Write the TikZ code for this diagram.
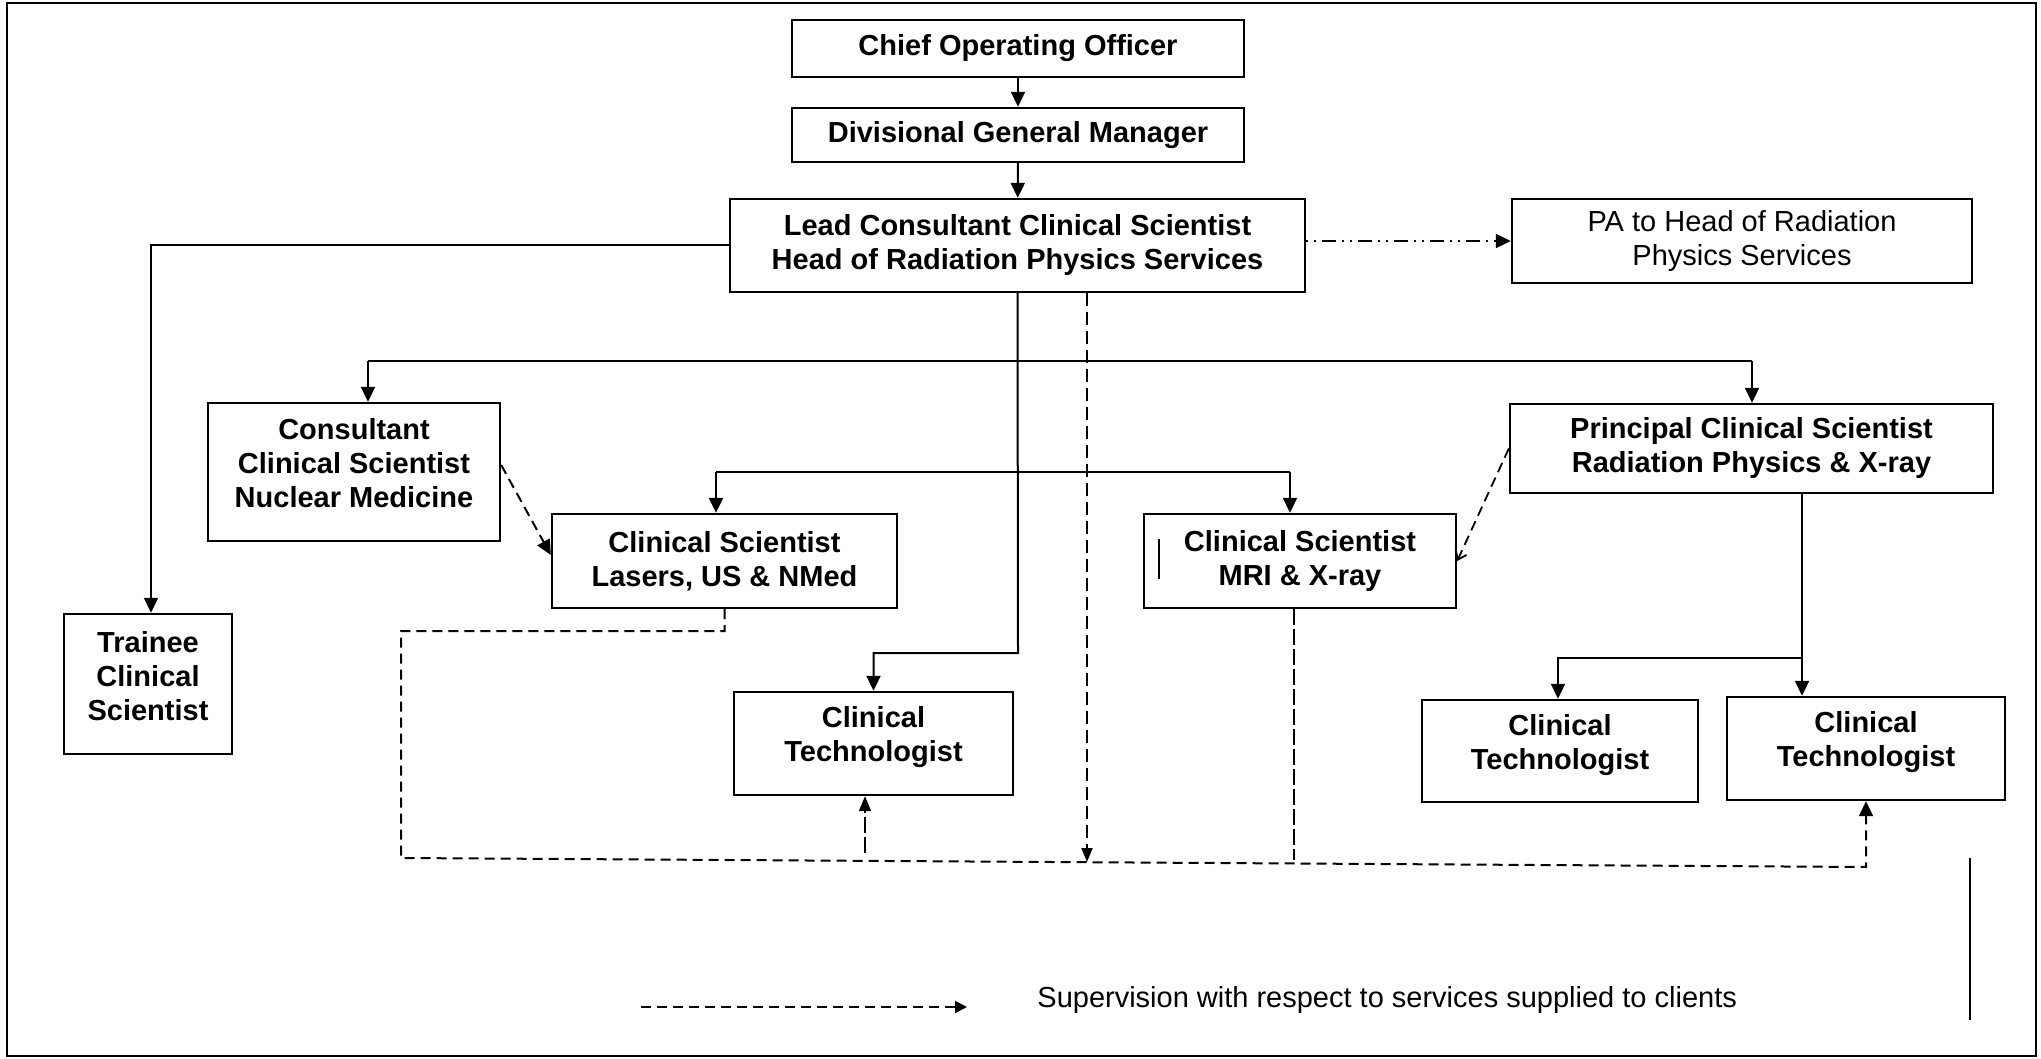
\documentclass[tikz,border=0pt]{standalone}
\usepackage{fontspec}
\setmainfont{Liberation Sans}
\usetikzlibrary{arrows.meta}
\begin{document}
\begin{tikzpicture}[x=0.5pt,y=-0.5pt,
  box/.style={draw, line width=1.2pt, inner sep=0pt, align=center,
    font=\bfseries\fontsize{14.5}{17}\selectfont},
  plainbox/.style={draw, line width=1.2pt, inner sep=0pt, align=center,
    font=\fontsize{14.5}{17}\selectfont},
  lbl/.style={inner sep=0pt, align=center, font=\bfseries\fontsize{14.5}{17}\selectfont},
  conn/.style={line width=1pt},
  tip/.style={-{Triangle[length=7.5pt,width=7pt]}},
  arr/.style={conn, tip},
  supline/.style={line width=1pt, dash pattern=on 5pt off 3pt},
  leaddash/.style={line width=1pt, dash pattern=on 6.5pt off 3pt},
  longdash/.style={line width=0.9pt, dash pattern=on 8pt off 2pt},
  dotdash/.style={line width=1pt, dash pattern=on 1pt off 3pt on 1pt off 3pt on 7pt off 3pt}
]
\useasboundingbox (0,0) rectangle (2041,1059);
\draw[line width=1pt] (7,3) rectangle (2036,1056);

% boxes
\node[box, minimum width=226pt, minimum height=28.5pt] (coo) at (1018,48.5) {Chief Operating Officer};
\node[box, minimum width=226pt, minimum height=27pt] (dgm) at (1018,135) {Divisional General Manager};
\node[box, minimum width=287.5pt, minimum height=46.5pt] (lead) at (1017.5,245.5) {Lead Consultant Clinical Scientist\\Head of Radiation Physics Services};
\node[plainbox, minimum width=230pt, minimum height=42pt] (pa) at (1742,241) {PA to Head of Radiation\\Physics Services};
\node[box, minimum width=84pt, minimum height=70pt,
  label={[lbl, yshift=4pt]center:{Trainee\\Clinical\\Scientist}}] (trainee) at (148,684) {};
\node[box, minimum width=146pt, minimum height=69pt,
  label={[lbl, yshift=4.5pt]center:{Consultant\\Clinical Scientist\\Nuclear Medicine}}] (cons) at (354,472) {};
\node[box, minimum width=172.5pt, minimum height=47pt] (cs1) at (724.5,561) {Clinical Scientist\\Lasers, US \& NMed};
\node[box, minimum width=156pt, minimum height=47pt] (cs2) at (1300,561) {Clinical Scientist\\MRI \& X-ray};
\node[box, minimum width=241.5pt, minimum height=44.5pt] (prin) at (1751.5,448.5) {Principal Clinical Scientist\\Radiation Physics \& X-ray};
\node[box, minimum width=139.5pt, minimum height=51.5pt,
  label={[lbl, yshift=3pt]center:{Clinical\\Technologist}}] (ct1) at (873.5,743.5) {};
\node[box, minimum width=138pt, minimum height=51pt,
  label={[lbl, yshift=3pt]center:{Clinical\\Technologist}}] (ct2) at (1560,751) {};
\node[box, minimum width=139pt, minimum height=51.5pt,
  label={[lbl, yshift=3pt]center:{Clinical\\Technologist}}] (ct3) at (1866,748.5) {};

% coordinates
\coordinate (t1) at (151,0);
\coordinate (b1l) at (368,361);
\coordinate (b1r) at (1752,361);
\coordinate (b2l) at (716,472);
\coordinate (b2r) at (1290,472);
\coordinate (j1) at (1018,653);
\coordinate (p1) at (1802,658);
\coordinate (p2) at (1558,658);
\coordinate (l2) at (401,631);
\coordinate (l3) at (401,858);
\coordinate (l4) at (1866,867);
\coordinate (u1) at (865,853);
\coordinate (d1) at (1087,862);
\coordinate (d2) at (1294,860);
\coordinate (lg1) at (641,1007);
\coordinate (lg2) at (967,1007);
\coordinate (v1) at (1970,858);
\coordinate (v2) at (1970,1020);
\coordinate (m1) at (1159,539);
\coordinate (m2) at (1159,579);

% solid reporting lines
\draw[arr] (coo) -- (dgm);
\draw[arr] (dgm) -- (lead);
\draw[arr] (lead.west) -| (t1 |- trainee.north);
\draw[arr] (lead.south) -- (j1) -| (ct1.north);
\draw[conn] (b1l) -- (b1r);
\draw[arr] (b1l) -- (b1l |- cons.north);
\draw[arr] (b1r) -- (b1r |- prin.north);
\draw[conn] (b2l) -- (b2r);
\draw[arr] (b2l) -- (b2l |- cs1.north);
\draw[arr] (b2r) -- (b2r |- cs2.north);
\draw[arr] (prin.south -| p1) -- (p1 |- ct3.north);
\draw[arr] (p1) -- (p2) -- (p2 |- ct2.north);

% PA link
\draw[dotdash, tip] (lead.east |- pa.west) -- (pa.west);

% supervision (dashed) lines
\draw[supline, tip] ([yshift=3.5pt]cons.east) -- ([yshift=3pt]cs1.west);
\draw[line width=0.9pt, dash pattern=on 5pt off 3pt, -{Straight Barb[length=4pt,width=6pt]}] (prin.west) -- (cs2.east);
\draw[leaddash, -{Triangle[length=7pt,width=5.5pt]}] (lead.south -| d1) -- (d1);
\draw[supline, tip] (cs1.south) |- (l2) -- (l3) -- (l4) -- (ct3.south);
\draw[longdash, -{Triangle[length=7.5pt,width=6pt]}] (u1) -- (u1 |- ct1.south);
\draw[longdash] (cs2.south -| d2) -- (d2);
\draw[conn] (m1) -- (m2);

% legend
\draw[supline, -{Triangle[length=6pt,width=6pt]}] (lg1) -- (lg2);
\node[anchor=west, inner sep=0pt, font=\fontsize{14.5}{17}\selectfont] (legend) at (1037,1000) {Supervision with respect to services supplied to clients};
\draw[conn] (v1) -- (v2);
\end{tikzpicture}
\end{document}
